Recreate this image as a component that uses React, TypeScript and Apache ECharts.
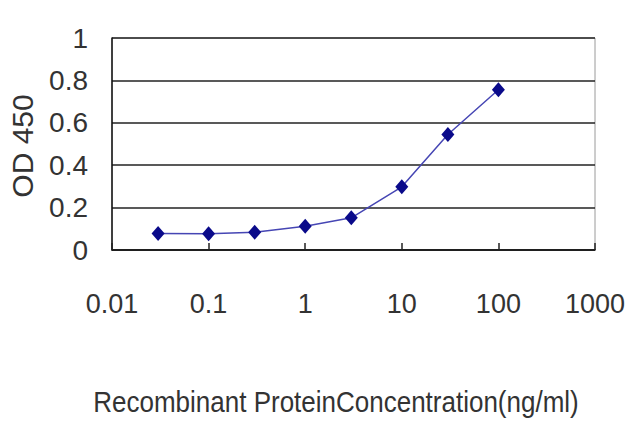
import React, { useEffect, useRef } from 'react';
import * as echarts from 'echarts';

// concentrations (ng/ml) and OD 450 readings
const concentrations = [0.03, 0.1, 0.3, 1, 3, 10, 30, 100];
const odValues = [0.078, 0.077, 0.084, 0.112, 0.152, 0.298, 0.545, 0.756];
const xTitle = 'Recombinant ProteinConcentration(ng/ml)';
const yTitle = 'OD 450';

const App: React.FC = () => {
  const chartRef = useRef<HTMLDivElement>(null);

  useEffect(() => {
    if (!chartRef.current) return;
    document.body.style.margin = '0';
    const chart = echarts.init(chartRef.current, undefined, { renderer: 'svg' });

    const font = 'Liberation Sans, Arial, sans-serif';

    const option: echarts.EChartsOption = {
      animation: false,
      backgroundColor: '#ffffff',
      grid: { left: 112, right: 45, top: 38, bottom: 177, show: true, borderColor: '#9a9a9a', borderWidth: 1 },
      xAxis: {
        type: 'log',
        logBase: 10,
        min: 0.01,
        max: 1000,
        axisLine: { show: true, lineStyle: { color: '#111', width: 1.5 } },
        axisTick: { show: true, inside: true, length: 7, lineStyle: { color: '#222', width: 1.5 } },
        splitLine: { show: false },
        axisLabel: {
          margin: 40,
          fontSize: 27,
          fontFamily: font,
          color: '#333',
          formatter: (v: number) => String(Number(v.toPrecision(3))),
        },
      },
      yAxis: {
        type: 'value',
        min: 0,
        max: 1,
        interval: 0.2,
        axisLine: { show: true, lineStyle: { color: '#111', width: 1.5 } },
        axisTick: { show: false },
        splitLine: { show: true, lineStyle: { color: '#222', width: 1.5 } },
        axisLabel: {
          margin: 24,
          fontSize: 28,
          fontFamily: font,
          color: '#333',
          formatter: (v: number) => String(Number(v.toFixed(1))),
        },
      },
      graphic: [
        {
          type: 'text',
          x: 22,
          y: 146,
          rotation: Math.PI / 2,
          style: {
            text: yTitle,
            fontSize: 30,
            fontFamily: font,
            fill: '#333',
            textAlign: 'center',
            textVerticalAlign: 'middle',
          },
        },
        {
          type: 'text',
          x: 336,
          y: 402,
          scaleY: 1.1,
          style: {
            text: xTitle,
            fontSize: 26,
            fontFamily: font,
            fill: '#333',
            textAlign: 'center',
            textVerticalAlign: 'middle',
          },
        },
      ],
      series: [
        {
          type: 'line',
          data: concentrations.map((c, i) => [c, odValues[i]]),
          symbol: 'diamond',
          symbolSize: [13, 15],
          itemStyle: { color: '#0a0a8a' },
          lineStyle: { color: '#4646b4', width: 1.5 },
        },
      ],
    };

    chart.setOption(option);
    return () => chart.dispose();
  }, []);

  return <div ref={chartRef} style={{ width: 640, height: 427 }} />;
};

export default App;
